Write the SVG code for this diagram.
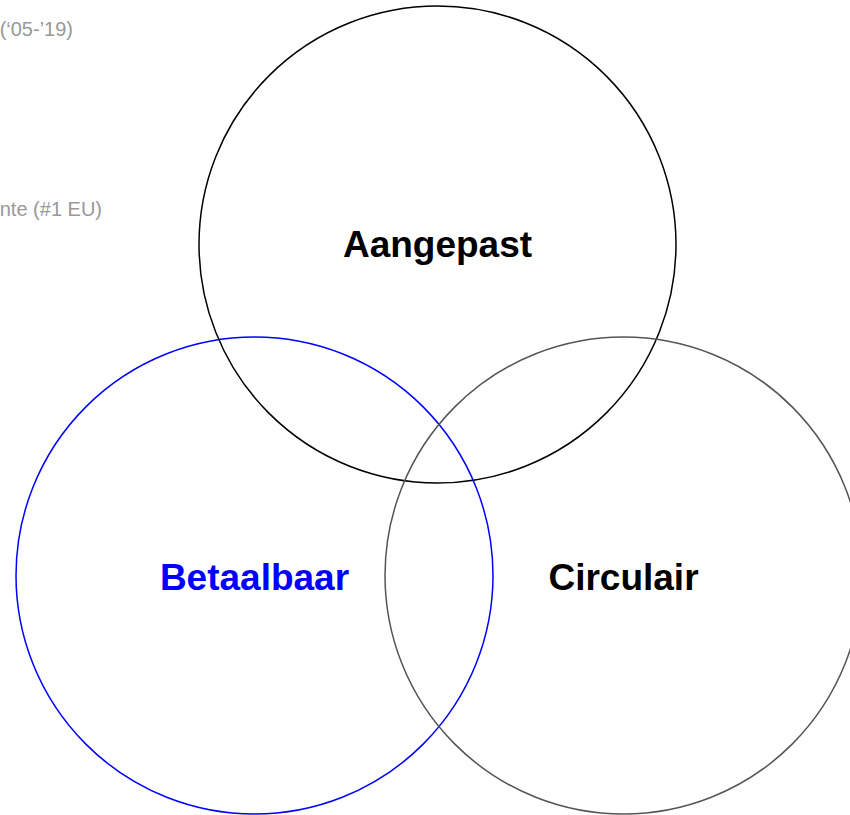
<svg xmlns="http://www.w3.org/2000/svg" width="850" height="815" viewBox="0 0 850 815">
<style>
.c{fill:none;stroke-width:1.5}
.lbl{font-family:"Liberation Sans",Arial,sans-serif;font-weight:bold;font-size:37px;text-anchor:middle}
.note{font-family:"Liberation Sans",Arial,sans-serif;font-size:20px;fill:#999;text-anchor:end}
</style>
<rect width="850" height="815" fill="#fff"/>
<text class="note" x="73" y="36">(‘05-’19)</text>
<text class="note" x="102" y="216">nte (#1 EU)</text>
<g id="aangepast">
<circle class="c" cx="437.5" cy="244.5" r="238.5" stroke="#000"/>
<text class="lbl" x="437.5" y="257">Aangepast</text>
</g>
<g id="betaalbaar">
<circle class="c" cx="254.5" cy="575.5" r="238.5" stroke="#0000ff"/>
<text class="lbl" x="254.5" y="590" fill="#0000ff">Betaalbaar</text>
</g>
<g id="circulair">
<circle class="c" cx="623.5" cy="575.5" r="238.5" stroke="#555"/>
<text class="lbl" x="623.5" y="590">Circulair</text>
</g>
<g id="connectors"/>
</svg>
